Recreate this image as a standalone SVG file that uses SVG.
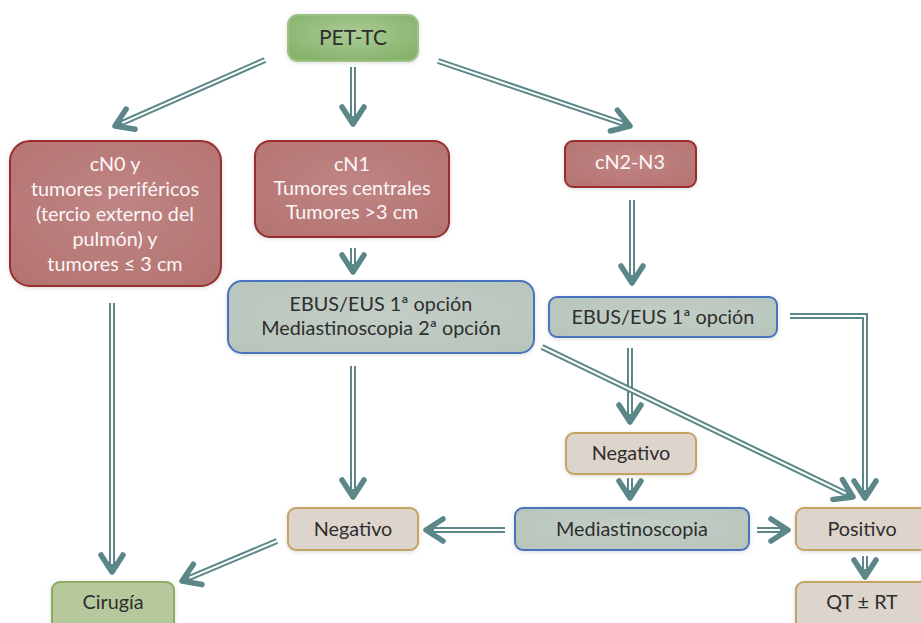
<svg xmlns="http://www.w3.org/2000/svg" width="921" height="623" viewBox="0 0 921 623">
  <defs>
    <radialGradient id="gGreen" cx="50%" cy="40%" r="65%">
      <stop offset="0" stop-color="#abcb97"/>
      <stop offset="1" stop-color="#86b26a"/>
    </radialGradient>
    <radialGradient id="gRed" cx="50%" cy="45%" r="70%">
      <stop offset="0" stop-color="#bf8584"/>
      <stop offset="1" stop-color="#b47371"/>
    </radialGradient>
    <radialGradient id="gSlate" cx="50%" cy="45%" r="70%">
      <stop offset="0" stop-color="#c3cec6"/>
      <stop offset="1" stop-color="#b7c5bb"/>
    </radialGradient>
    <filter id="halo" x="-10%" y="-20%" width="120%" height="140%">
      <feDropShadow dx="0" dy="1" stdDeviation="2" flood-color="#999999" flood-opacity="0.35"/>
    </filter>
    <marker id="chev" markerUnits="userSpaceOnUse" orient="auto" viewBox="-24 -16 30 32" markerWidth="30" markerHeight="32" refX="0" refY="0" overflow="visible">
      <path d="M -17 -11 L 0 0 L -17 11" fill="none" stroke="#5b8789" stroke-width="5.5" stroke-linecap="round" stroke-linejoin="round"/>
    </marker>
    <style>
      .n rect { stroke-width: 2; filter: url(#halo); }
      .pet rect { fill: url(#gGreen); stroke: #9cc184; }
      .red rect { fill: url(#gRed); stroke: #9a2e2e; }
      .slate rect { fill: url(#gSlate); stroke: #4a73bd; }
      .tan rect { fill: #ddd4cc; stroke: #c5a464; }
      .cir rect { fill: #b6c99d; stroke: #8eab63; }
      text { font-family: Lato, "Open Sans", "Liberation Sans", sans-serif; font-size: 19.8px; text-anchor: middle; fill: #2e2e2e; }
      .red text { fill: #fbf6f6; }
      .pet text { font-size: 21px; }
      .rail { fill: none; stroke: #5b8789; stroke-width: 6; stroke-linejoin: miter; marker-end: url(#chev); }
      .gap { fill: none; stroke: #ffffff; stroke-width: 2; stroke-linejoin: miter; }
    </style>
  </defs>

  <rect x="0" y="0" width="921" height="623" fill="#ffffff"/>

  <!-- connectors: outer rail carries the chevron, inner white stroke splits it into a double line -->
  <g id="connectors">
    <path class="rail" d="M265 60 L115 126"/><path class="gap" d="M265 60 L122.3 122.8"/>
    <path class="rail" d="M353 67 L353 124"/><path class="gap" d="M353 67 L353 116"/>
    <path class="rail" d="M438 61 L630 126"/><path class="gap" d="M438 61 L622.4 123.4"/>
    <path class="rail" d="M112 303 L112 572"/><path class="gap" d="M112 303 L112 564"/>
    <path class="rail" d="M353 248 L353 272"/><path class="gap" d="M353 248 L353 264"/>
    <path class="rail" d="M632 200 L632 283"/><path class="gap" d="M632 200 L632 275"/>
    <path class="rail" d="M353 366 L353 497"/><path class="gap" d="M353 366 L353 489"/>
    <path class="rail" d="M630 348 L630 422"/><path class="gap" d="M630 348 L630 414"/>
    <path class="rail" d="M542 347 L853 497"/><path class="gap" d="M542 347 L845.8 493.5"/>
    <path class="rail" d="M630 478 L630 498"/><path class="gap" d="M630 478 L630 490"/>
    <path class="rail" d="M505 530 L426 530"/><path class="gap" d="M505 530 L434 530"/>
    <path class="rail" d="M757 530 L788 530"/><path class="gap" d="M757 530 L780 530"/>
    <path class="rail" d="M865 556 L865 577"/><path class="gap" d="M865 556 L865 569"/>
    <path class="rail" d="M277 541 L182 581"/><path class="gap" d="M277 541 L189.4 577.9"/>
    <path class="rail" d="M790 316 H865 V498"/><path class="gap" d="M790 316 H865 V490"/>
  </g>

  <g id="pet-tc" class="n pet">
    <rect x="288" y="15" width="130" height="46" rx="10"/>
    <text x="353" y="45">PET-TC</text>
  </g>

  <g id="cn0" class="n red">
    <rect x="10" y="141" width="211" height="145" rx="20"/>
    <text x="115" y="171">cN0 y</text>
    <text x="115" y="196">tumores periféricos</text>
    <text x="115" y="221">(tercio externo del</text>
    <text x="115" y="246">pulmón) y</text>
    <text x="115" y="271">tumores ≤ 3 cm</text>
  </g>

  <g id="cn1" class="n red">
    <rect x="255" y="141" width="194" height="96" rx="15"/>
    <text x="352" y="171">cN1</text>
    <text x="352" y="195">Tumores centrales</text>
    <text x="352" y="219">Tumores &gt;3 cm</text>
  </g>

  <g id="cn2-n3" class="n red">
    <rect x="565" y="141" width="131" height="46" rx="8"/>
    <text x="630" y="169">cN2-N3</text>
  </g>

  <g id="ebus-left" class="n slate">
    <rect x="228" y="281" width="306" height="72" rx="14"/>
    <text x="381" y="311">EBUS/EUS 1ª opción</text>
    <text x="381" y="335">Mediastinoscopia 2ª opción</text>
  </g>

  <g id="ebus-right" class="n slate">
    <rect x="549" y="297" width="228" height="40" rx="8"/>
    <text x="663" y="324">EBUS/EUS 1ª opción</text>
  </g>

  <g id="negativo-right" class="n tan">
    <rect x="566" y="433" width="130" height="41" rx="8"/>
    <text x="631" y="460">Negativo</text>
  </g>

  <g id="mediastinoscopia" class="n slate">
    <rect x="515" y="508" width="234" height="42" rx="8"/>
    <text x="632" y="536">Mediastinoscopia</text>
  </g>

  <g id="positivo" class="n tan">
    <rect x="796" y="508" width="135" height="42" rx="8"/>
    <text x="862" y="536">Positivo</text>
  </g>

  <g id="qt-rt" class="n tan">
    <rect x="796" y="582" width="135" height="50" rx="8"/>
    <text x="862" y="609">QT ± RT</text>
  </g>

  <g id="negativo-left" class="n tan">
    <rect x="288" y="508" width="130" height="42" rx="8"/>
    <text x="353" y="536">Negativo</text>
  </g>

  <g id="cirugia" class="n cir">
    <rect x="52" y="582" width="122" height="50" rx="8"/>
    <text x="113" y="609">Cirugía</text>
  </g>
</svg>
